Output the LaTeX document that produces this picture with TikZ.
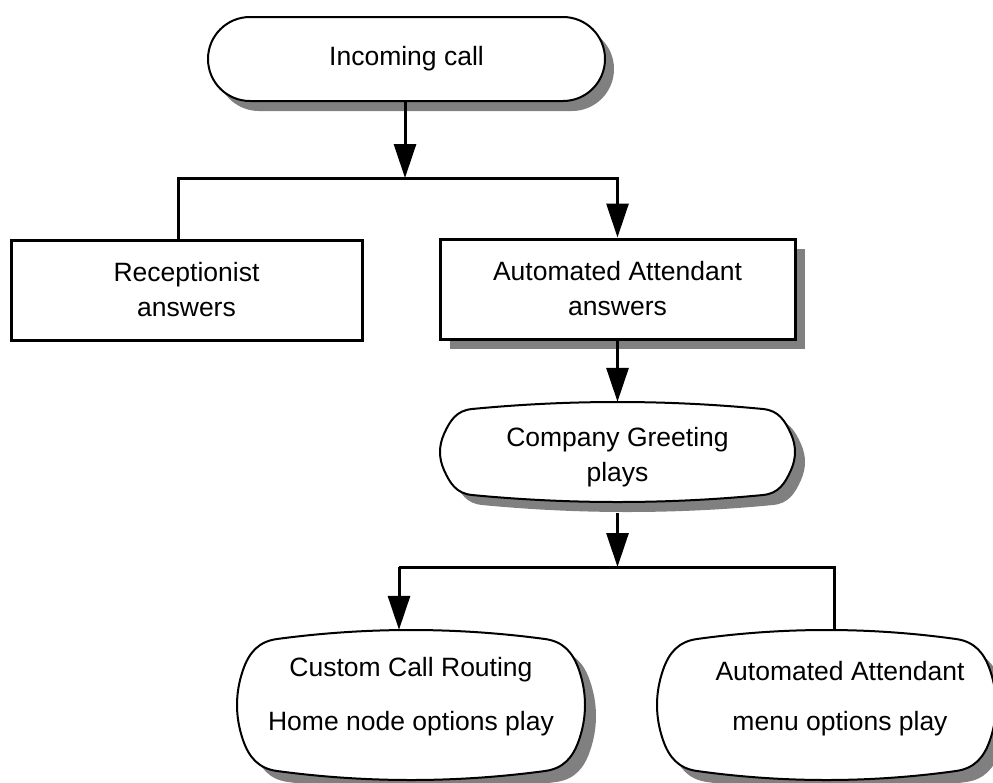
\documentclass[tikz,border=0pt]{standalone}
\usepackage{fontspec}
\setmainfont{Liberation Sans}
\usetikzlibrary{arrows.meta}
\definecolor{shadowgray}{RGB}{128,128,128}
\tikzset{
  conn/.style={line width=3pt,line join=miter},
  arr/.style={conn,-{Triangle[length=34pt,width=22pt]}},
  shade/.style={fill=shadowgray,draw=none},
  softline/.style={fill=white,draw=black,line width=2pt},
  lbl/.style={align=center,font=\fontsize{26.5}{35}\selectfont,inner sep=0pt},
  rectbox/.style={draw,line width=3pt,fill=white},
}
% soft box: #1..#4 = x1 y1 x2 y2 (extremes), #5 = style
% \rr corner size, \bb bulge of top/bottom edges, \bs bulge of sides
\newcommand\softshape[5]{%
  \pgfmathsetmacro\xa{#1}\pgfmathsetmacro\ya{#2}%
  \pgfmathsetmacro\xb{#3}\pgfmathsetmacro\yb{#4}%
  \pgfmathsetmacro\hx{(\xb-\xa-2*\rr)/3}\pgfmathsetmacro\hy{(\yb-\ya-2*\rr)/3}%
  \pgfmathsetmacro\kx{0.55*(\rr-\bs)}\pgfmathsetmacro\ky{0.55*(\rr-\bb)}%
  \pgfmathsetmacro\tx{\kx*4*\bb/(3*\hx)}%
  \pgfmathsetmacro\ty{\ky*4*\bs/(3*\hy)}%
  \path[#5] ({\xa+\rr},{\ya+\bb})
    .. controls ({\xa+\rr+\hx},{\ya-\bb/3}) and ({\xb-\rr-\hx},{\ya-\bb/3}) .. ({\xb-\rr},{\ya+\bb})
    .. controls ({\xb-\rr+\kx},{\ya+\bb+\tx}) and ({\xb-\bs-\ty},{\ya+\rr-\ky}) .. ({\xb-\bs},{\ya+\rr})
    .. controls ({\xb+\bs/3},{\ya+\rr+\hy}) and ({\xb+\bs/3},{\yb-\rr-\hy}) .. ({\xb-\bs},{\yb-\rr})
    .. controls ({\xb-\bs-\ty},{\yb-\rr+\ky}) and ({\xb-\rr+\kx},{\yb-\bb-\tx}) .. ({\xb-\rr},{\yb-\bb})
    .. controls ({\xb-\rr-\hx},{\yb+\bb/3}) and ({\xa+\rr+\hx},{\yb+\bb/3}) .. ({\xa+\rr},{\yb-\bb})
    .. controls ({\xa+\rr-\kx},{\yb-\bb-\tx}) and ({\xa+\bs+\ty},{\yb-\rr+\ky}) .. ({\xa+\bs},{\yb-\rr})
    .. controls ({\xa-\bs/3},{\yb-\rr-\hy}) and ({\xa-\bs/3},{\ya+\rr+\hy}) .. ({\xa+\bs},{\ya+\rr})
    .. controls ({\xa+\bs+\ty},{\ya+\rr-\ky}) and ({\xa+\rr-\kx},{\ya+\bb+\tx}) .. ({\xa+\rr},{\ya+\bb}) -- cycle;%
}
\begin{document}
\begin{tikzpicture}[x=1pt,y=-1pt]
\useasboundingbox (0,0) rectangle (993,782);
\clip (0,0) rectangle (993,782);
\fill[white] (0,0) rectangle (993,782);

% Incoming call
\fill[shadowgray,rounded corners=42pt] (217,27) rectangle (614,111);
\node[lbl,draw,line width=2pt,fill=white,rounded corners=42pt,
      minimum width=397pt,minimum height=84pt] (inc) at (406.5,59) {Incoming call};

% Receptionist
\node[lbl,rectbox,minimum width=351pt,minimum height=100pt] (rec) at (186.5,290) {Receptionist\\answers};

% Automated Attendant answers
\fill[shadowgray] (450,249) rectangle (805,349);
\node[lbl,rectbox,minimum width=355pt,minimum height=100pt] (aa) at (617.5,289) {Automated Attendant\\answers};

% Company Greeting plays
\def\rr{32}\def\bb{7}\def\bs{4}
\softshape{450}{412}{805}{512}{shade}
\softshape{440}{402}{795}{502}{softline}
\node[lbl,minimum width=355pt,minimum height=111pt] (cg) at (617.5,457.5) {Company Greeting\\plays};

% Bottom boxes
\def\rr{40}\def\bb{9}\def\bs{6}
\softshape{248}{641}{596}{791}{shade}
\softshape{237}{630}{585}{780}{softline}
\node[lbl,minimum width=348pt,minimum height=134pt] (ccr) at (411,697) {Custom Call Routing\\[19pt]Home node options play};

\softshape{667}{641}{1006}{791}{shade}
\softshape{657}{630}{996}{780}{softline}
\node[lbl,minimum width=339pt,minimum height=138pt] (menu) at (840,699) {Automated Attendant\\[15pt]menu options play};

% Connectors
\coordinate (j1) at (405,178);
\coordinate (jl) at (178,178);
\coordinate (jr) at (617.5,178);
\draw[arr] (j1 |- inc.south) -- (j1);
\draw[conn] (jl |- rec.north) -- (jl) -- (jr) -- ++(0,1.5);
\draw[arr] (jr) -- (aa.north);
\draw[arr] (aa.south) -- (cg.north);

\coordinate (j2) at (617.5,567);
\coordinate (j2l) at (399,567);
\coordinate (j2r) at (834,567);
\draw[arr] (cg.south) -- (j2);
\draw[conn] (j2l) -- (j2r) -- (j2r |- menu.north);
\draw[arr] (j2l) -- (j2l |- ccr.north);
\end{tikzpicture}
\end{document}
